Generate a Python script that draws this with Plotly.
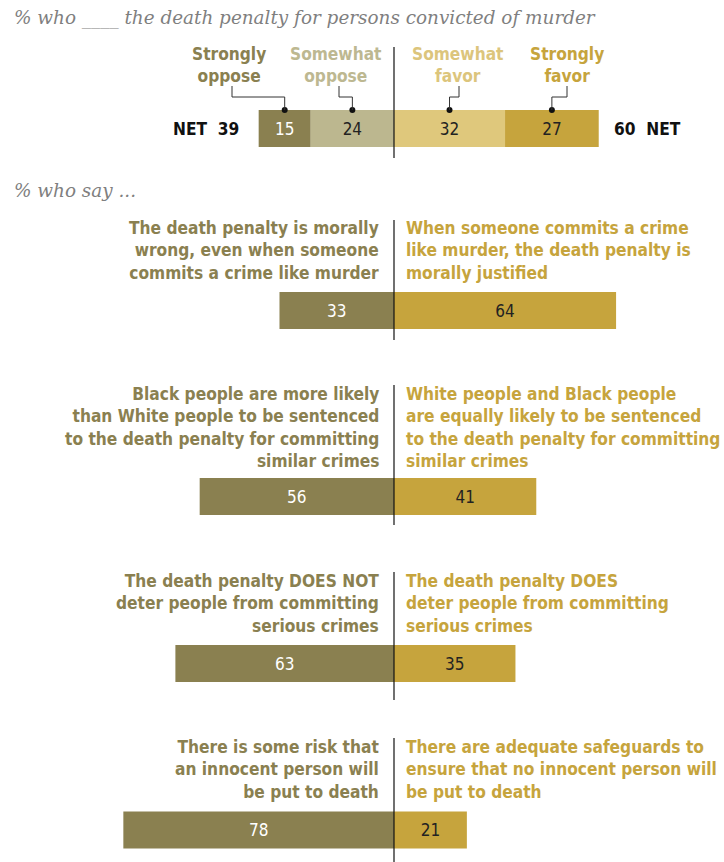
import plotly.graph_objects as go

# ---------------- data ----------------
title_top = "% who ____ the death penalty for persons convicted of murder"
title_mid = "% who say ..."

top_categories = ["Strongly<br>oppose", "Somewhat<br>oppose", "Somewhat<br>favor", "Strongly<br>favor"]
top_values = [15, 24, 32, 27]
net_oppose = 39
net_favor = 60

left_statements = [
    "The death penalty is morally<br>wrong, even when someone<br>commits a crime like murder",
    "Black people are more likely<br>than White people to be sentenced<br>to the death penalty for committing<br>similar crimes",
    "The death penalty DOES NOT<br>deter people from committing<br>serious crimes",
    "There is some risk that<br>an innocent person will<br>be put to death",
]
right_statements = [
    "When someone commits a crime<br>like murder, the death penalty is<br>morally justified",
    "White people and Black people<br>are equally likely to be sentenced<br>to the death penalty for committing<br>similar crimes",
    "The death penalty DOES<br>deter people from committing<br>serious crimes",
    "There are adequate safeguards to<br>ensure that no innocent person will<br>be put to death",
]
left_values = [33, 56, 63, 78]
right_values = [64, 41, 35, 21]

# ---------------- styling / layout ----------------
W, H = 724, 862
CX = 394.0          # pixel of zero line
PXU = 3.47          # pixels per percentage point
FONT = "DejaVu Sans Condensed, Liberation Sans Narrow, Arial Narrow, sans-serif"
SERIF = "DejaVu Serif, Georgia, serif"

C_SO = "#8a8050"
C_WO = "#bcb78f"
C_WF = "#dfc87c"
C_SF = "#c6a43d"
top_colors = [C_SO, C_WO, C_WF, C_SF]
top_label_colors = [C_SO, "#bdb891", "#dcc57c", C_SF]
top_text_colors = ["white", "#222", "#222", "#222"]

TOP_Y = 128.5
ROW_Y = [310.5, 496.5, 663.5, 830]
ROW_TEXT_Y = [228, 394, 581, 747]
BAR_H = 37
LINE_H = 22
FS_LABEL = 17.2

def to_x(px):
    return (px - CX) / PXU

fig = go.Figure()

# top stacked bar
bases = []
acc = -sum(top_values[:2])
for v in top_values:
    bases.append(acc)
    acc += v
for cat, v, b, col, tc in zip(top_categories, top_values, bases, top_colors, top_text_colors):
    fig.add_trace(go.Bar(
        x=[v], y=[TOP_Y], base=[b], orientation="h", width=BAR_H,
        marker=dict(color=col, line=dict(width=0)),
        text=[str(v)], textposition="inside", insidetextanchor="middle",
        textfont=dict(family=FONT, size=17, color=tc),
        hoverinfo="skip", showlegend=False, name=cat.replace("<br>", " "),
    ))

# row bars
for ly, lv, rv in zip(ROW_Y, left_values, right_values):
    fig.add_trace(go.Bar(
        x=[lv], y=[ly], base=[-lv], orientation="h", width=BAR_H,
        marker=dict(color=C_SO, line=dict(width=0)),
        text=[str(lv)], textposition="inside", insidetextanchor="middle",
        textfont=dict(family=FONT, size=17, color="white"),
        hoverinfo="skip", showlegend=False,
    ))
    fig.add_trace(go.Bar(
        x=[rv], y=[ly], base=[0], orientation="h", width=BAR_H,
        marker=dict(color=C_SF, line=dict(width=0)),
        text=[str(rv)], textposition="inside", insidetextanchor="middle",
        textfont=dict(family=FONT, size=17, color="#222"),
        hoverinfo="skip", showlegend=False,
    ))

# dots for leader lines at segment midpoints
mids = [b + v / 2 for b, v in zip(bases, top_values)]
fig.add_trace(go.Scatter(
    x=mids, y=[110] * 4, mode="markers",
    marker=dict(color="#111", size=6), hoverinfo="skip", showlegend=False,
))

shapes = []
# leader lines
label_px = [232, 339, 459, 567]
for lp, m in zip(label_px, mids):
    lx = to_x(lp)
    shapes.append(dict(type="path", xref="x", yref="y",
                       path=f"M {lx},86 L {lx},97 L {m},97 L {m},110",
                       line=dict(color="#333", width=1)))

# zero line segments
for y0, y1 in [(47, 158), (220, 340), (385, 525), (572, 700), (738, 862)]:
    shapes.append(dict(type="line", xref="x", yref="y", x0=0, x1=0, y0=y0, y1=y1,
                       line=dict(color="#111", width=1.2)))

annotations = []
# titles
annotations.append(dict(text=f"<i>{title_top}</i>", x=12 / W, y=18, xref="paper", yref="y",
                        xanchor="left", yanchor="middle", showarrow=False,
                        font=dict(family=SERIF, size=18.4, color="#7f7f7f")))
annotations.append(dict(text=f"<i>{title_mid}</i>", x=12 / W, y=190, xref="paper", yref="y",
                        xanchor="left", yanchor="middle", showarrow=False,
                        font=dict(family=SERIF, size=18.4, color="#7f7f7f")))

# top labels
label_center_px = [229, 336, 458, 567]
for cat, lp, col in zip(top_categories, label_center_px, top_label_colors):
    annotations.append(dict(text=f"<b>{cat}</b>", x=to_x(lp), y=65, xref="x", yref="y",
                            xanchor="center", yanchor="middle", showarrow=False, align="center",
                            font=dict(family=FONT, size=FS_LABEL, color=col)))

# NET labels
annotations.append(dict(text=f"<b>NET  {net_oppose}</b>", x=to_x(241), y=TOP_Y, xref="x", yref="y",
                        xanchor="right", yanchor="middle", showarrow=False,
                        font=dict(family=FONT, size=FS_LABEL, color="#111")))
annotations.append(dict(text=f"<b>{net_favor}  NET</b>", x=to_x(612), y=TOP_Y, xref="x", yref="y",
                        xanchor="left", yanchor="middle", showarrow=False,
                        font=dict(family=FONT, size=FS_LABEL, color="#111")))

# statements
for ty, ls, rs in zip(ROW_TEXT_Y, left_statements, right_statements):
    annotations.append(dict(text=f"<b>{ls}</b>", x=to_x(380), y=ty - LINE_H / 2, xref="x", yref="y",
                            xanchor="right", yanchor="top", showarrow=False, align="right",
                            borderpad=0,
                            font=dict(family=FONT, size=FS_LABEL, color=C_SO)))
    annotations.append(dict(text=f"<b>{rs}</b>", x=to_x(405), y=ty - LINE_H / 2, xref="x", yref="y",
                            xanchor="left", yanchor="top", showarrow=False, align="left",
                            borderpad=0,
                            font=dict(family=FONT, size=FS_LABEL, color=C_SF)))

fig.update_layout(
    width=W, height=H,
    margin=dict(l=0, r=0, t=0, b=0),
    paper_bgcolor="white", plot_bgcolor="white",
    barmode="overlay",
    xaxis=dict(range=[to_x(0), to_x(W)], visible=False, fixedrange=True),
    yaxis=dict(range=[H, 0], visible=False, fixedrange=True),
    shapes=shapes, annotations=annotations,
    showlegend=False,
)

fig.write_html("out.html")
